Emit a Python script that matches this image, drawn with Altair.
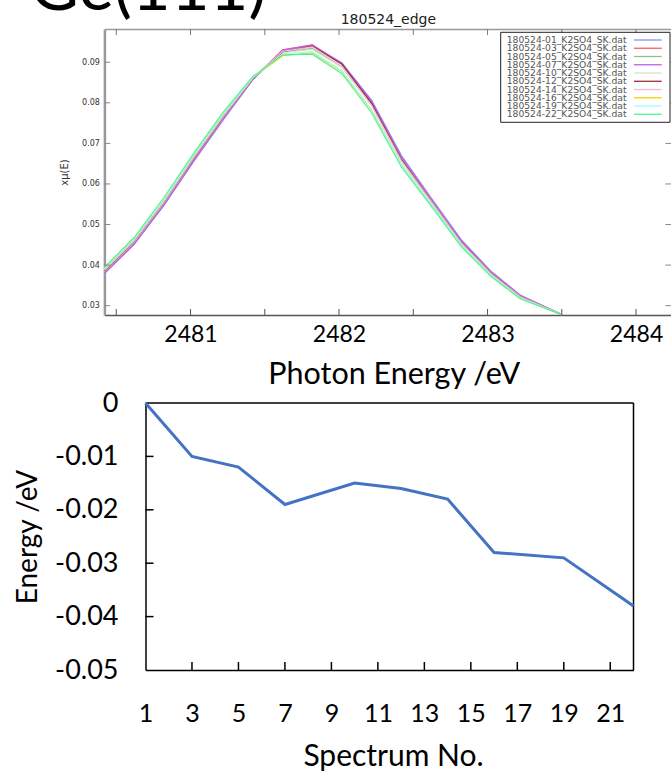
import altair as alt
import pandas as pd

PANEL_LABEL = "Ge(111)"

# ---------------- top panel (gnuplot XANES edge) ----------------
ENERGY = [2480.42, 2480.62, 2480.82, 2481.02, 2481.22, 2481.42, 2481.62, 2481.82,
          2482.02, 2482.22, 2482.42, 2482.62, 2482.82, 2483.02, 2483.22, 2483.50]

SERIES = ["180524-01_K2SO4_SK.dat", "180524-03_K2SO4_SK.dat", "180524-05_K2SO4_SK.dat",
          "180524-07_K2SO4_SK.dat", "180524-10_K2SO4_SK.dat", "180524-12_K2SO4_SK.dat",
          "180524-14_K2SO4_SK.dat", "180524-16_K2SO4_SK.dat", "180524-19_K2SO4_SK.dat",
          "180524-22_K2SO4_SK.dat"]

S01 = [0.0380, 0.0452, 0.0547, 0.0655, 0.0758, 0.0857, 0.0928, 0.0941, 0.0898, 0.0806, 0.0670, 0.0566, 0.0464, 0.0386, 0.0326, 0.0278]
S03 = [0.0384, 0.0456, 0.0552, 0.0660, 0.0763, 0.0859, 0.0931, 0.0943, 0.0896, 0.0800, 0.0663, 0.0561, 0.0460, 0.0383, 0.0324, 0.0278]
S05 = [0.0384, 0.0457, 0.0553, 0.0661, 0.0764, 0.0860, 0.0925, 0.0934, 0.0889, 0.0796, 0.0661, 0.0560, 0.0459, 0.0382, 0.0323, 0.0278]
S07 = [0.0379, 0.0451, 0.0547, 0.0656, 0.0760, 0.0858, 0.0930, 0.0943, 0.0897, 0.0803, 0.0667, 0.0563, 0.0461, 0.0384, 0.0325, 0.0278]
S10 = [0.0385, 0.0458, 0.0554, 0.0663, 0.0765, 0.0860, 0.0924, 0.0932, 0.0887, 0.0794, 0.0659, 0.0558, 0.0457, 0.0381, 0.0322, 0.0278]
S12 = [0.0386, 0.0459, 0.0555, 0.0663, 0.0766, 0.0860, 0.0926, 0.0940, 0.0895, 0.0798, 0.0660, 0.0558, 0.0457, 0.0381, 0.0322, 0.0278]
S14 = [0.0387, 0.0460, 0.0556, 0.0664, 0.0767, 0.0861, 0.0927, 0.0938, 0.0890, 0.0793, 0.0657, 0.0557, 0.0456, 0.0380, 0.0322, 0.0278]
S16 = [0.0390, 0.0464, 0.0561, 0.0670, 0.0772, 0.0863, 0.0916, 0.0924, 0.0877, 0.0782, 0.0649, 0.0551, 0.0451, 0.0376, 0.0319, 0.0278]
S19 = [0.0391, 0.0464, 0.0561, 0.0670, 0.0772, 0.0863, 0.0920, 0.0926, 0.0879, 0.0783, 0.0649, 0.0551, 0.0451, 0.0376, 0.0319, 0.0278]
S22 = [0.0394, 0.0468, 0.0566, 0.0675, 0.0777, 0.0865, 0.0918, 0.0920, 0.0872, 0.0775, 0.0642, 0.0546, 0.0447, 0.0373, 0.0317, 0.0278]
ALL_SERIES = [S01, S03, S05, S07, S10, S12, S14, S16, S19, S22]

COLORS = ["#8c8cff", "#ff5c5c", "#8fbf8f", "#b860f0", "#dcdccb",
          "#9a2e2e", "#f5bcd0", "#ffcf00", "#99ffff", "#4cf58c"]

X_TOP_DOMAIN = [2480.42, 2484.238]
Y_TOP_DOMAIN = [0.0277, 0.0982]
Y_TICKS_TOP = [0.03, 0.04, 0.05, 0.06, 0.07, 0.08, 0.09]
X_TICKS_TOP = [2480.5, 2481.0, 2481.5, 2482.0, 2482.5, 2483.0, 2483.5, 2484.0]
X_LABELS_TOP = [2481, 2482, 2483, 2484]

# ---------------- bottom panel (edge shift) ----------------
SPECTRUM_NO = [1, 3, 5, 7, 10, 12, 14, 16, 19, 22]
SHIFT_EV = [0.0, -0.010, -0.012, -0.019, -0.015, -0.016, -0.018, -0.028, -0.029, -0.038]
X_BOT_DOMAIN = [1, 22]
Y_BOT_DOMAIN = [-0.05, 0.0]
X_LABELS_BOT = [1, 3, 5, 7, 9, 11, 13, 15, 17, 19, 21]
X_TICKS_BOT = [3, 5, 7, 9, 11, 13, 15, 17, 19, 21]
Y_LABELS_BOT = [0.0, -0.01, -0.02, -0.03, -0.04, -0.05]
Y_TICKS_BOT = [-0.01, -0.02, -0.03, -0.04]

# ---------------- tables ----------------
rows = []
for name, vals in zip(SERIES, ALL_SERIES):
    for e, v in zip(ENERGY, vals):
        rows.append({"E": e, "mu": v, "series": name})
df_top = pd.DataFrame(rows)
df_bot = pd.DataFrame({"n": SPECTRUM_NO, "dE": SHIFT_EV})
df_leg = pd.DataFrame({"series": SERIES})
one = pd.DataFrame({"k": [0]})

# ---------------- scales (plot area = full canvas) ----------------
xs_top = alt.Scale(domain=X_TOP_DOMAIN, range=[104.4, 671.4], nice=False, zero=False)
ys_top = alt.Scale(domain=Y_TOP_DOMAIN, range=[315, 29], nice=False, zero=False)
xs_bot = alt.Scale(domain=X_BOT_DOMAIN, range=[145.5, 633.5], nice=False, zero=False)
ys_bot = alt.Scale(domain=Y_BOT_DOMAIN, range=[670, 403], nice=False, zero=False)
color_scale = alt.Scale(domain=SERIES, range=COLORS)
ys_leg = alt.Scale(type="point", domain=SERIES, range=[40, 114.3], padding=0)

# ---------------- top panel layers ----------------
lines = alt.Chart(df_top).mark_line(strokeWidth=1.2).encode(
    x=alt.X("E:Q", scale=xs_top, axis=alt.Axis(
        orient="bottom", offset=-456, values=X_LABELS_TOP, format="d",
        labelFont="Lato", labelFontSize=23, labelColor="black", labelPadding=8,
        labelFlush=False, labelOverlap=False, ticks=False, tickSize=0,
        domainColor="#555", domainWidth=1.5, grid=False,
        title="Photon Energy /eV", titleFont="Lato", titleFontSize=30.5,
        titleFontWeight="normal", titleColor="black", titlePadding=13, titleX=393.7)),
    y=alt.Y("mu:Q", scale=ys_top, axis=alt.Axis(
        orient="left", offset=-104.4, values=Y_TICKS_TOP, format=".2f",
        labelFont="DejaVu Sans", labelFontSize=8, labelColor="#333", labelPadding=5,
        labelOverlap=False, ticks=False, tickSize=0, domainColor="#999", domainWidth=2.5,
        grid=False, title="xμ(E)", titleFont="DejaVu Sans", titleFontSize=10,
        titleFontWeight="normal", titleColor="#333", titlePadding=12.5)),
    color=alt.Color("series:N", scale=color_scale, legend=None),
)

df_yt = pd.DataFrame({"v": Y_TICKS_TOP})
df_xt = pd.DataFrame({"v": X_TICKS_TOP})

left_ticks = alt.Chart(df_yt).mark_rule(color="#888", strokeWidth=1, x2Offset=6).encode(
    x=alt.XDatum(X_TOP_DOMAIN[0], scale=xs_top, axis=None),
    x2=alt.X2Datum(X_TOP_DOMAIN[0]),
    y=alt.Y("v:Q", scale=ys_top, axis=None),
)
right_ticks = alt.Chart(df_yt).mark_rule(color="#888", strokeWidth=1, xOffset=-6).encode(
    x=alt.XDatum(X_TOP_DOMAIN[1], scale=xs_top, axis=None),
    x2=alt.X2Datum(X_TOP_DOMAIN[1]),
    y=alt.Y("v:Q", scale=ys_top, axis=None),
)
bottom_ticks = alt.Chart(df_xt).mark_rule(color="#555", strokeWidth=1, y2Offset=-6).encode(
    x=alt.X("v:Q", scale=xs_top, axis=None),
    y=alt.YDatum(Y_TOP_DOMAIN[0], scale=ys_top, axis=None),
    y2=alt.Y2Datum(Y_TOP_DOMAIN[0]),
)
top_ticks = alt.Chart(df_xt).mark_rule(color="#777", strokeWidth=1, y2Offset=6).encode(
    x=alt.X("v:Q", scale=xs_top, axis=alt.Axis(
        orient="top", offset=-29, labels=False, ticks=False, tickSize=0,
        domainColor="#999", domainWidth=1.5, grid=False,
        title="180524_edge", titleFont="DejaVu Sans", titleFontSize=14,
        titleFontWeight="normal", titleColor="#222", titlePadding=2.6)),
    y=alt.YDatum(Y_TOP_DOMAIN[1], scale=ys_top, axis=None),
    y2=alt.Y2Datum(Y_TOP_DOMAIN[1]),
)

panel_top = alt.layer(lines, left_ticks, right_ticks, bottom_ticks, top_ticks).resolve_axis(
    x="independent", y="independent")

# ---------------- legend box (gnuplot key) ----------------
leg_frame = alt.Chart(one).mark_rect(fill="white", stroke="#222", strokeWidth=1).encode(
    x=alt.value(500.7), x2=alt.value(670), y=alt.value(32.3), y2=alt.value(122.3))
leg_text = alt.Chart(df_leg).mark_text(
    align="left", baseline="middle", font="DejaVu Sans", fontSize=9.2, color="#555").encode(
    x=alt.value(506.7),
    y=alt.Y("series:N", scale=ys_leg, axis=None),
    text="series:N",
)
leg_sym = alt.Chart(df_leg).mark_rule(strokeWidth=1.3).encode(
    x=alt.value(634), x2=alt.value(661.7),
    y=alt.Y("series:N", scale=ys_leg, axis=None),
    color=alt.Color("series:N", scale=color_scale, legend=None),
)
panel_legend = alt.layer(leg_frame, leg_text, leg_sym)

# ---------------- bottom panel layers ----------------
line_bot = alt.Chart(df_bot).mark_line(color="#4472C4", strokeWidth=3).encode(
    x=alt.X("n:Q", scale=xs_bot, axis=alt.Axis(
        orient="bottom", offset=-101, values=X_LABELS_BOT, format="d",
        labelFont="Lato", labelFontSize=25, labelColor="black", labelPadding=31,
        labelFlush=False, labelOverlap=False, ticks=False, tickSize=0,
        domainColor="black", domainWidth=1.5, grid=False,
        title="Spectrum No.", titleFont="Lato", titleFontSize=30,
        titleFontWeight="normal", titleColor="black", titlePadding=15.5, titleX=393)),
    y=alt.Y("dE:Q", scale=ys_bot, axis=alt.Axis(
        orient="left", offset=-145.5, values=Y_LABELS_BOT,
        labelExpr="datum.value == 0 ? '0' : '-0.0' + format(-datum.value * 100, 'd')",
        labelFont="Lato", labelFontSize=27, labelColor="black", labelPadding=27.5,
        labelOverlap=False, ticks=False, tickSize=0, domainColor="black", domainWidth=1.5,
        grid=False, title="Energy /eV", titleFont="Lato", titleFontSize=28,
        titleFontWeight="normal", titleColor="black", titlePadding=12)),
)

box_top = alt.Chart(one).mark_rule(color="black", strokeWidth=1.5).encode(
    x=alt.XDatum(X_BOT_DOMAIN[0], scale=xs_bot, axis=None),
    x2=alt.X2Datum(X_BOT_DOMAIN[1]),
    y=alt.YDatum(Y_BOT_DOMAIN[1], scale=ys_bot, axis=None),
)
box_right = alt.Chart(one).mark_rule(color="black", strokeWidth=1.5).encode(
    x=alt.XDatum(X_BOT_DOMAIN[1], scale=xs_bot, axis=None),
    y=alt.YDatum(Y_BOT_DOMAIN[0], scale=ys_bot, axis=None),
    y2=alt.Y2Datum(Y_BOT_DOMAIN[1]),
)
bot_xticks = alt.Chart(pd.DataFrame({"v": X_TICKS_BOT})).mark_rule(
    color="black", strokeWidth=1.5, y2Offset=-8).encode(
    x=alt.X("v:Q", scale=xs_bot, axis=None),
    y=alt.YDatum(Y_BOT_DOMAIN[0], scale=ys_bot, axis=None),
    y2=alt.Y2Datum(Y_BOT_DOMAIN[0]),
)
bot_yticks = alt.Chart(pd.DataFrame({"v": Y_TICKS_BOT})).mark_rule(
    color="black", strokeWidth=1.5, x2Offset=8).encode(
    x=alt.XDatum(X_BOT_DOMAIN[0], scale=xs_bot, axis=None),
    x2=alt.X2Datum(X_BOT_DOMAIN[0]),
    y=alt.Y("v:Q", scale=ys_bot, axis=None),
)

panel_bot = alt.layer(box_top, box_right, bot_xticks, bot_yticks, line_bot).resolve_axis(
    x="independent", y="independent")

# ---------------- big slide label, cut by the top edge ----------------
big_label = alt.Chart(pd.DataFrame({"t": [PANEL_LABEL]})).mark_text(
    align="left", baseline="alphabetic", font="Lato", fontSize=67, color="black").encode(
    x=alt.value(30), y=alt.value(10), text="t:N")

chart = alt.layer(panel_top, panel_legend, panel_bot, big_label).resolve_scale(
    x="independent", y="independent", color="independent"
).properties(
    width=671, height=771, padding=0,
    autosize=alt.AutoSizeParams(type="none"),
).configure_view(stroke=None).configure_axis(grid=False)

chart.save("out.html", embed_options={"renderer": "svg", "actions": False})
